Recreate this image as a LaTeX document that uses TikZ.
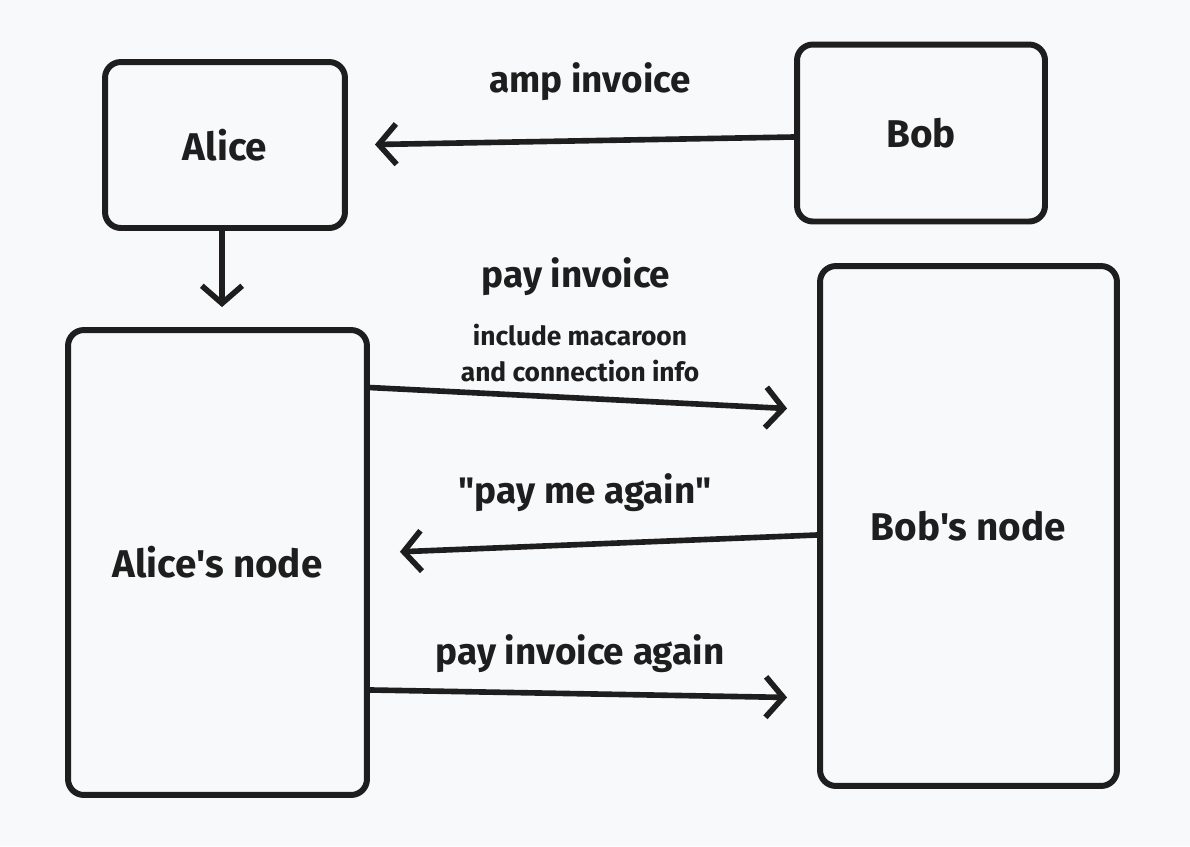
\documentclass[tikz,border=0pt]{standalone}
\usepackage{fontspec}
\setmainfont{Fira Sans}[Ligatures=TeXOff]
\usetikzlibrary{arrows.meta}
\definecolor{bg}{HTML}{F8F9FA}
\definecolor{ink}{HTML}{1E1E1E}
\begin{document}
\begin{tikzpicture}[x=0.02cm,y=-0.02cm,
 box/.style={draw=ink, line width=3.4pt, rounded corners=9pt, font=\bfseries\fontsize{22}{26}\selectfont, text=ink},
 conn/.style={draw=ink, line width=3.2pt, line cap=round, line join=round, -{Straight Barb[length=10pt,width=23pt,line width=3.2pt]}},
 lbl/.style={font=\bfseries\fontsize{21}{25}\selectfont, text=ink},
 small/.style={font=\bfseries\fontsize{15}{20}\selectfont, text=ink, align=center}]
\fill[bg] (0,0) rectangle (1190,846);
\useasboundingbox (0,0) rectangle (1190,846);
\node[box, minimum width=4.8cm, minimum height=3.32cm] (alice) at (225,145) {Alice};
\node[box, minimum width=4.96cm, minimum height=3.54cm] (bob) at (921,133) {Bob};
\node[box, minimum width=5.98cm, minimum height=9.3cm] (an) at (217.5,562.5) {Alice's node};
\node[box, minimum width=5.94cm, minimum height=10.4cm] (bn) at (968.5,526) {Bob's node};

\draw[conn, shorten >=0.54cm] ([yshift=-0.08cm]bob.west) -- (alice.east);
\draw[conn, shorten >=0.4cm] ([xshift=-0.06cm]alice.south) -- ([xshift=-0.06cm]alice.south |- an.north);
\draw[conn, shorten >=0.6cm] ([yshift=3.5cm]an.east) -- ([yshift=2.32cm]bn.west);
\draw[conn, shorten >=0.6cm] ([yshift=-0.18cm]bn.west) -- ([yshift=0.19cm]an.east);
\draw[conn, shorten >=0.6cm] ([yshift=-2.55cm]an.east) -- ([yshift=-3.44cm]bn.west);

\node[lbl] (l1) at (590,82) {amp invoice};
\node[lbl] (l2) at (576,277) {pay invoice};
\node[small] (l3) at (580,353) {include macaroon\\and connection info};
\node[lbl] (l4) at (585,493) {"pay me again"};
\node[lbl] (l5) at (580,654) {pay invoice again};
\end{tikzpicture}
\end{document}
